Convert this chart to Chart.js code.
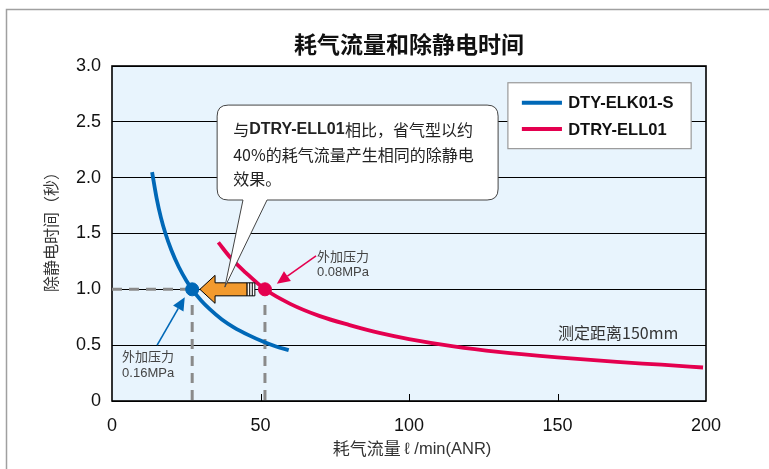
<!DOCTYPE html>
<html><head><meta charset="utf-8">
<script src="https://cdn.jsdelivr.net/npm/chart.js@4.4.1/dist/chart.umd.min.js"></script>
<style>
html,body{margin:0;padding:0;background:#fff;}
#wrap{position:relative;width:769px;height:469px;}
</style></head><body>
<div id="wrap"><canvas id="c" width="769" height="469"></canvas></div>
<script>
// ---- data ----
const xTicks = [0, 50, 100, 150, 200];
const yTicks = [0, 0.5, 1.0, 1.5, 2.0, 2.5, 3.0];
const seriesNames = ['DTY-ELK01-S', 'DTRY-ELL01'];
const blueX = [13.5, 15, 16.5, 18, 20, 22.5, 25, 27, 30, 33, 37, 41, 46, 51, 55, 59.5];
const blueY = [2.05, 1.82, 1.64, 1.50, 1.35, 1.20, 1.08, 1.00, 0.90, 0.82, 0.73, 0.66, 0.59, 0.53, 0.49, 0.455];
const redX = [35.8, 40, 45, 51.5, 60, 70, 80, 90, 100, 115, 130, 150, 170, 185, 199];
const redY = [1.42, 1.28, 1.15, 1.00, 0.87, 0.76, 0.68, 0.61, 0.555, 0.49, 0.44, 0.39, 0.35, 0.325, 0.30];
const pointX = [27, 51.5];   // operating points (blue 0.16MPa, red 0.08MPa)
const pointY = [1.0, 1.0];
const title = '耗气流量和除静电时间';
const xTitleCJK = '耗气流量';
const xTitleUnit = 'ℓ /min(ANR)';
const yTitle = '除静电时间（秒）';
const note = '测定距离150mm';
const bubbleLines = [['与', 'DTRY-ELL01', '相比，省气型以约'], ['40%的耗气流量产生相同的除静电'], ['效果。']];
const pressLabels = [['外加压力', '0.16MPa'], ['外加压力', '0.08MPa']];

const BLUE = '#0068b7', RED = '#e4004f', GRAY = '#8a8a8a', ORANGE = '#f29a2e';
const FONT = '"Liberation Sans", "Noto Sans CJK SC", sans-serif';
const CJK = '"Noto Sans CJK SC", "Liberation Sans", sans-serif';

const zip = (xs, ys) => xs.map((x, i) => ({x, y: ys[i]}));

function arrowLine(ctx, x1, y1, x2, y2, color) {
  const a = Math.atan2(y2 - y1, x2 - x1), L = 13, W = 6;
  const bx = x2 - L * Math.cos(a), by = y2 - L * Math.sin(a);
  ctx.strokeStyle = color; ctx.fillStyle = color; ctx.lineWidth = 1.6;
  ctx.beginPath(); ctx.moveTo(x1, y1); ctx.lineTo(bx, by); ctx.stroke();
  ctx.beginPath(); ctx.moveTo(x2, y2);
  ctx.lineTo(bx + W * Math.sin(a), by - W * Math.cos(a));
  ctx.lineTo(bx - W * Math.sin(a), by + W * Math.cos(a));
  ctx.closePath(); ctx.fill();
}

const deco = {
  id: 'deco',
  beforeDraw(chart) {
    const {ctx, chartArea: a} = chart;
    ctx.save();
    ctx.fillStyle = '#fff'; ctx.fillRect(0, 0, chart.width, chart.height);
    // page frame
    ctx.strokeStyle = '#a0a0a0'; ctx.lineWidth = 1.5;
    ctx.beginPath(); ctx.moveTo(6.5, chart.height); ctx.lineTo(6.5, 9.5); ctx.lineTo(chart.width, 9.5); ctx.stroke();
    ctx.fillStyle = '#e8f4fd';
    ctx.fillRect(a.left, a.top, a.right - a.left, a.bottom - a.top);
    ctx.restore();
  },
  beforeDatasetsDraw(chart) {
    const {ctx, chartArea: a, scales: {x}} = chart;
    ctx.save();
    ctx.strokeStyle = '#000'; ctx.lineWidth = 1;
    xTicks.slice(1, -1).forEach(v => {
      const px = Math.round(x.getPixelForValue(v)) + 0.5;
      ctx.beginPath(); ctx.moveTo(px, a.bottom); ctx.lineTo(px, a.bottom - 7); ctx.stroke();
    });
    ctx.lineWidth = 1.6;
    ctx.strokeRect(a.left, a.top, a.right - a.left, a.bottom - a.top);
    ctx.restore();
  },
  afterDatasetsDraw(chart) {
    const {ctx, chartArea: a, scales: {x, y}} = chart;
    const X = v => x.getPixelForValue(v), Y = v => y.getPixelForValue(v);
    ctx.save();
    // title
    ctx.fillStyle = '#111'; ctx.textAlign = 'center'; ctx.textBaseline = 'middle';
    ctx.font = 'bold 23px ' + CJK;
    ctx.fillText(title, (a.left + a.right) / 2, 44);
    // x axis title
    ctx.fillStyle = '#333';
    ctx.font = '17px ' + CJK; const w1 = ctx.measureText(xTitleCJK + ' ').width;
    ctx.font = '16.5px ' + FONT; const w2 = ctx.measureText(xTitleUnit).width;
    let sx = (a.left + a.right) / 2 - (w1 + w2) / 2 + 3;
    ctx.textAlign = 'left';
    ctx.font = '17px ' + CJK; ctx.fillText(xTitleCJK + ' ', sx, 449);
    ctx.font = '16.5px ' + FONT; ctx.fillText(xTitleUnit, sx + w1, 449);
    // y axis title
    ctx.textAlign = 'center';
    ctx.save(); ctx.translate(51, 228); ctx.rotate(-Math.PI / 2);
    ctx.font = '16px ' + CJK; ctx.fillText(yTitle, 0, 0); ctx.restore();

    // orange arrow (from red point to blue point)
    const ay = Y(1.0), tip = X(29.6), hb = X(34.7), be = X(45.5), se = X(48.1);
    ctx.fillStyle = ORANGE; ctx.strokeStyle = '#000'; ctx.lineWidth = 1;
    ctx.beginPath();
    ctx.moveTo(tip, ay); ctx.lineTo(hb, ay - 14); ctx.lineTo(hb, ay - 6.5); ctx.lineTo(be, ay - 6.5);
    ctx.lineTo(be, ay + 6.5); ctx.lineTo(hb, ay + 6.5); ctx.lineTo(hb, ay + 14); ctx.closePath();
    ctx.fill(); ctx.stroke();
    ctx.fillStyle = '#fff';
    ctx.fillRect(be, ay - 6.5, se - be, 13);
    ctx.beginPath();
    for (let i = 0; i <= 3; i++) { const lx = be + (se - be) * i / 3; ctx.moveTo(lx, ay - 6.5); ctx.lineTo(lx, ay + 6.5); }
    ctx.moveTo(be, ay - 6.5); ctx.lineTo(se, ay - 6.5); ctx.moveTo(be, ay + 6.5); ctx.lineTo(se, ay + 6.5);
    ctx.stroke();
    ctx.fillStyle = ORANGE;
    ctx.fillRect(be + 1.5, ay - 5.5, (se - be) / 3 - 2.5, 11);

    // speech bubble
    const L = X(35.4), R = X(130), T = Y(2.65), B = Y(1.80), r = 11;
    const p1 = X(52.2), p2 = X(44.1), tx = X(38.0), ty = Y(1.02);
    ctx.beginPath();
    ctx.moveTo(L + r, T); ctx.lineTo(R - r, T); ctx.quadraticCurveTo(R, T, R, T + r);
    ctx.lineTo(R, B - r); ctx.quadraticCurveTo(R, B, R - r, B);
    ctx.lineTo(p1, B); ctx.lineTo(tx, ty); ctx.lineTo(p2, B);
    ctx.lineTo(L + r, B); ctx.quadraticCurveTo(L, B, L, B - r);
    ctx.lineTo(L, T + r); ctx.quadraticCurveTo(L, T, L + r, T); ctx.closePath();
    ctx.fillStyle = '#fff'; ctx.fill(); ctx.strokeStyle = '#444'; ctx.lineWidth = 1; ctx.stroke();
    ctx.textAlign = 'left'; ctx.fillStyle = '#222';
    bubbleLines.forEach((parts, i) => {
      let cx = L + 16; const cy = T + 25 + i * 24.5;
      parts.forEach(p => {
        const bold = /^[A-Z0-9-]+$/.test(p);
        ctx.font = (bold ? 'bold ' : '') + '16px ' + (bold ? FONT : CJK);
        ctx.fillText(p, cx, cy); cx += ctx.measureText(p).width + (bold ? 0.5 : 0);
      });
    });

    // legend
    const lx1 = X(133.3), lx2 = X(195), ly1 = Y(2.85), ly2 = Y(2.26);
    ctx.fillStyle = '#fff'; ctx.fillRect(lx1, ly1, lx2 - lx1, ly2 - ly1);
    ctx.strokeStyle = '#999'; ctx.lineWidth = 1.2; ctx.strokeRect(lx1, ly1, lx2 - lx1, ly2 - ly1);
    [[BLUE, 2.67], [RED, 2.436]].forEach(([c, yy], i) => {
      ctx.strokeStyle = c; ctx.lineWidth = 4;
      ctx.beginPath(); ctx.moveTo(X(138), Y(yy)); ctx.lineTo(X(151.5), Y(yy)); ctx.stroke();
      ctx.fillStyle = '#111'; ctx.font = 'bold 16.5px ' + FONT;
      ctx.fillText(seriesNames[i], X(153.6), Y(yy) + 1);
    });

    // pressure annotations
    arrowLine(ctx, X(68.7), Y(1.30), X(55.5), Y(1.05), RED);
    arrowLine(ctx, X(15.2), Y(0.50), X(24.5), Y(0.93), BLUE);
    ctx.fillStyle = '#444';
    ctx.font = '13px ' + CJK; ctx.fillText(pressLabels[1][0], X(69), Y(1.30));
    ctx.font = '13px ' + FONT; ctx.fillText(pressLabels[1][1], X(69), Y(1.155));
    ctx.font = '13px ' + CJK; ctx.fillText(pressLabels[0][0], X(3.4), Y(0.40));
    ctx.font = '13px ' + FONT; ctx.fillText(pressLabels[0][1], X(3.4), Y(0.25));
    ctx.fillStyle = '#333'; ctx.font = '16px ' + CJK;
    ctx.fillText(note, X(150.2), Y(0.61));
    ctx.restore();
  }
};

new Chart(document.getElementById('c'), {
  type: 'scatter',
  data: {
    datasets: [
      {data: zip(pointX.slice(0, 1), pointY.slice(0, 1)), pointRadius: 6.5, pointBackgroundColor: BLUE, pointBorderColor: BLUE, showLine: false, order: 0},
      {data: zip(pointX.slice(1), pointY.slice(1)), pointRadius: 6.5, pointBackgroundColor: RED, pointBorderColor: RED, showLine: false, order: 0},
      {label: seriesNames[0], data: zip(blueX, blueY), showLine: true, borderColor: BLUE, borderWidth: 3.8, pointRadius: 0, cubicInterpolationMode: 'monotone', order: 1},
      {label: seriesNames[1], data: zip(redX, redY), showLine: true, borderColor: RED, borderWidth: 3.8, pointRadius: 0, cubicInterpolationMode: 'monotone', order: 1},
      {data: [{x: 0, y: pointY[0]}, {x: pointX[0], y: pointY[0]}], showLine: true, borderColor: GRAY, borderWidth: 3, borderDash: [10, 7], pointRadius: 0, order: 2},
      {data: [{x: pointX[0], y: 0.86}, {x: pointX[0], y: 0}], showLine: true, borderColor: GRAY, borderWidth: 3, borderDash: [10, 7], pointRadius: 0, order: 2},
      {data: [{x: pointX[1], y: 0.86}, {x: pointX[1], y: 0}], showLine: true, borderColor: GRAY, borderWidth: 3, borderDash: [10, 7], pointRadius: 0, order: 2}
    ]
  },
  options: {
    responsive: false, animation: false, devicePixelRatio: 1,
    layout: {padding: {left: 0, top: 66, right: 63, bottom: 0}},
    plugins: {legend: {display: false}, tooltip: {enabled: false}, title: {display: false}},
    scales: {
      x: {
        type: 'linear', min: 0, max: 200,
        afterBuildTicks: s => { s.ticks = xTicks.map(v => ({value: v})); },
        afterFit: s => { s.height = 68; },
        grid: {display: false}, border: {display: false},
        ticks: {color: '#111', font: {size: 18, family: FONT}, padding: 6, maxRotation: 0}
      },
      y: {
        min: 0, max: 3,
        afterBuildTicks: s => { s.ticks = yTicks.map(v => ({value: v})); },
        afterFit: s => { s.width = 112; },
        grid: {color: '#000', lineWidth: 1, drawTicks: false}, border: {display: false},
        ticks: {color: '#111', font: {size: 18, family: FONT}, padding: 11,
          callback: v => v === 0 ? '0' : v.toFixed(1)}
      }
    }
  },
  plugins: [deco]
});
</script>
</body></html>
